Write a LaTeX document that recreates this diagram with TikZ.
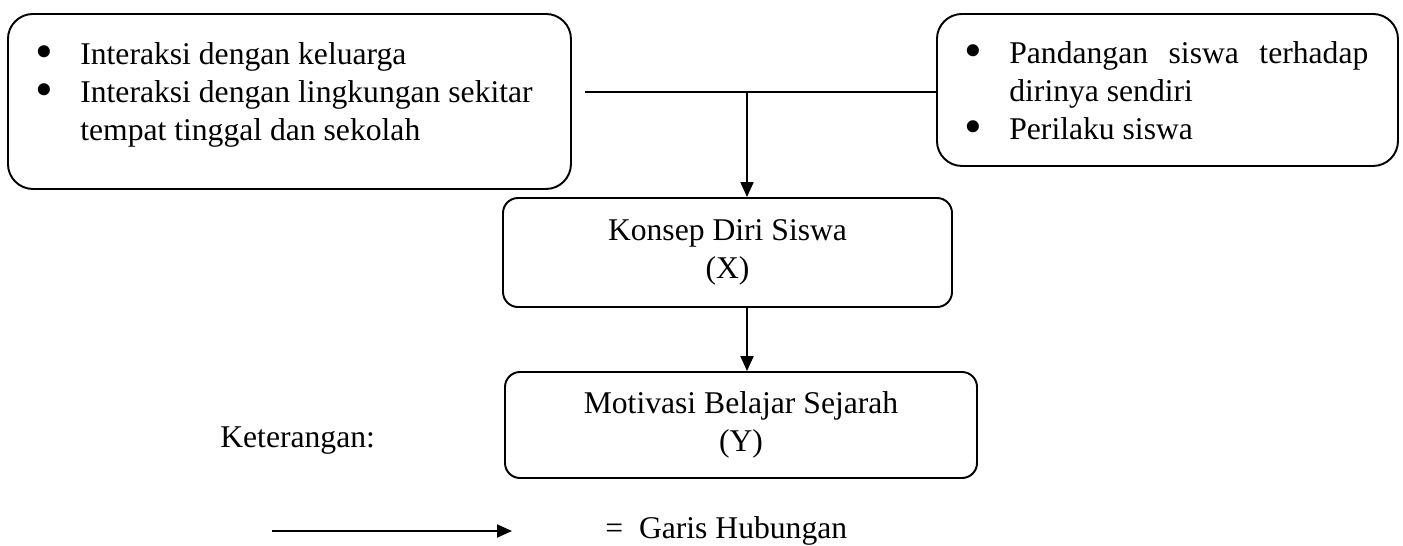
\documentclass[tikz,border=0pt]{standalone}
\usepackage{fontspec}
\setmainfont{Liberation Serif}
\usetikzlibrary{arrows.meta}
\tikzstyle{kotakbesar} = [rectangle, rounded corners=0.5cm, draw=black, line width=1.1pt]
\tikzstyle{kotak} = [rectangle, rounded corners=0.3cm, draw=black, line width=1.1pt, align=center]
\tikzstyle{isi} = [inner sep=0pt, anchor=north west, align=justify]
\tikzstyle{garis} = [line width=1.1pt]
\tikzstyle{arrow} = [line width=1.1pt, -{Triangle[length=0.3cm, width=0.26cm]}]
\newlength{\indenbutir}
\setlength{\indenbutir}{0.9cm}
\newcommand{\butir}[1]{\par\noindent\hangindent=\indenbutir\hangafter=1\makebox[\indenbutir][l]{\raisebox{-0.12em}{\scalebox{1.6}{\textbullet}}}#1}

\begin{document}
\begin{tikzpicture}[font=\fontsize{18}{21.6}\selectfont]
      \useasboundingbox (0,0) rectangle (28.06,-10.9);
      % faktor di atas
      \node (kiri) [kotakbesar, minimum width=11.26cm, minimum height=3.5cm, anchor=north west] at (0.14,-0.26) {};
      \node (kiriisi) [isi, text width=10.2cm] at (0.7,-0.52) {\raggedright\butir{Interaksi dengan keluarga}\butir{Interaksi dengan lingkungan sekitar tempat tinggal dan sekolah}\par};
      \node (kanan) [kotakbesar, minimum width=9.22cm, minimum height=3.04cm, anchor=north west] at (18.72,-0.26) {};
      \node (kananisi) [isi, text width=8.08cm] at (19.28,-0.50) {\butir{Pandangan siswa terhadap dirinya sendiri}\butir{Perilaku siswa}\par};
      % variabel X dan Y
      \node (diri) [kotak, minimum width=8.98cm, minimum height=2.18cm] at (14.55,-5.05) {Konsep Diri Siswa\\(X)};
      \node (motivasi) [kotak, minimum width=9.44cm, minimum height=2.12cm] at (14.82,-8.5) {Motivasi Belajar Sejarah\\(Y)};
      \coordinate (awal) at (11.7,-1.84);
      \coordinate (temu) at (14.94,-1.84);
      \draw [garis] (awal) -- (awal -| kanan.west);
      \draw [arrow] (temu) -- (temu |- diri.north);
      \draw [arrow] (temu |- diri.south) -- (temu |- motivasi.north);
      % keterangan
      \node (ket) [anchor=base west, inner sep=0pt] at (4.4,-8.94) {Keterangan:};
      \coordinate (legawal) at (5.44,-10.62);
      \coordinate (legakhir) at (10.24,-10.62);
      \draw [arrow] (legawal) -- (legakhir);
      \node (garishub) [anchor=west, inner sep=0pt] at (12.1,-10.62) {= \ Garis Hubungan};
\end{tikzpicture}
\end{document}
